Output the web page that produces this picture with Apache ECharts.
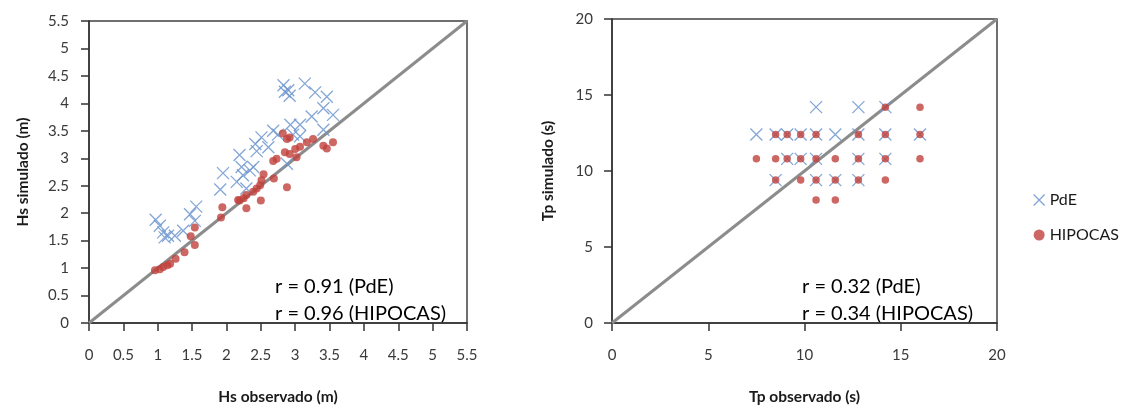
<!DOCTYPE html>
<html lang="pt">
<head>
    <meta charset="UTF-8">
    <script src="https://cdn.jsdelivr.net/npm/echarts@6/dist/echarts.min.js"></script>
    <style>
        html, body { margin: 0; padding: 0; background: #fff; }
    </style>
</head>
<body>
<div id="chart" style="width: 1125px;height: 410px"></div>
<script>
    // Hs (m) - PdE
    var hsObsPdE = [0.97, 1.03, 1.08, 1.15, 1.25, 1.10, 1.37, 1.47, 1.56, 1.54, 1.91, 1.95, 2.19, 2.15, 2.24, 2.39, 2.29,
        2.44, 2.51, 2.42, 2.68, 2.75, 2.83, 2.90, 2.85, 2.92, 3.14, 3.29, 3.46, 3.55, 3.41, 3.24, 3.07, 2.93, 3.41,
        2.97, 3.07, 2.88, 2.61, 2.22, 2.34];
    var hsSimPdE = [1.88, 1.77, 1.65, 1.59, 1.59, 1.56, 1.68, 1.98, 2.12, 1.86, 2.43, 2.73, 3.06, 2.57, 2.69, 2.84, 2.45,
        3.13, 3.38, 3.26, 3.50, 3.43, 4.33, 4.24, 4.21, 4.14, 4.36, 4.20, 4.12, 3.79, 3.91, 3.76, 3.61, 3.61, 3.52,
        3.43, 3.40, 2.90, 3.20, 2.84, 2.78];
    // Hs (m) - HIPOCAS
    var hsObsHip = [0.96, 1.03, 1.08, 1.14, 1.18, 1.26, 1.39, 1.54, 1.48, 1.54, 1.92, 1.94, 2.29, 2.50, 2.17, 2.19, 2.25,
        2.29, 2.39, 2.44, 2.49, 2.54, 2.51, 2.68, 2.73, 2.69, 2.88, 2.82, 2.88, 2.92, 2.85, 2.92, 3.02, 3.00, 3.07,
        3.17, 3.26, 3.41, 3.46, 3.55];
    var hsSimHip = [0.96, 0.98, 1.02, 1.05, 1.08, 1.17, 1.29, 1.42, 1.58, 1.74, 1.92, 2.11, 2.09, 2.23, 2.24, 2.23, 2.27,
        2.33, 2.39, 2.45, 2.51, 2.71, 2.60, 2.95, 2.99, 2.63, 2.47, 3.45, 3.35, 3.38, 3.11, 3.08, 3.02, 3.17, 3.21,
        3.29, 3.35, 3.23, 3.18, 3.29];

    // Tp (s) - PdE
    var tpObsPdE = [10.6, 12.8, 14.2,
        7.5, 8.5, 9.1, 9.8, 10.6, 11.6, 12.8, 14.2, 16.0,
        9.1, 9.8, 10.6, 12.8, 14.2,
        8.5, 10.6, 11.6, 12.8];
    var tpSimPdE = [14.2, 14.2, 14.2,
        12.4, 12.4, 12.4, 12.4, 12.4, 12.4, 12.4, 12.4, 12.4,
        10.8, 10.8, 10.8, 10.8, 10.8,
        9.4, 9.4, 9.4, 9.4];
    // Tp (s) - HIPOCAS
    var tpObsHip = [14.2, 16.0,
        8.5, 9.1, 9.8, 10.6, 12.8, 14.2, 16.0,
        7.5, 8.5, 9.1, 9.8, 10.6, 11.6, 12.8, 14.2, 16.0,
        8.5, 9.8, 10.6, 11.6, 12.8, 14.2,
        10.6, 11.6];
    var tpSimHip = [14.2, 14.2,
        12.4, 12.4, 12.4, 12.4, 12.4, 12.4, 12.4,
        10.8, 10.8, 10.8, 10.8, 10.8, 10.8, 10.8, 10.8, 10.8,
        9.4, 9.4, 9.4, 9.4, 9.4, 9.4,
        8.1, 8.1];

    var hsLine = [0, 5.5];
    var tpLine = [0, 20];
    var hsText = ['r = 0.91 (PdE)', 'r = 0.96 (HIPOCAS)'];
    var tpText = ['r = 0.32 (PdE)', 'r = 0.34 (HIPOCAS)'];

    function pairs(xs, ys) {
        var out = [];
        for (var i = 0; i < xs.length; i++) out.push([xs[i], ys[i]]);
        return out;
    }

    var font = 'Lato, "Liberation Sans", sans-serif';
    var crossSymbol = 'path://M0,0L10,10M10,0L0,10';
    var crossStyle = {color: 'rgba(0,0,0,0)', borderColor: '#6f97cf', borderWidth: 1.3, opacity: 0.85};
    var dotStyle = {color: '#c0413c'};

    function xAxis(idx, max, interval, name) {
        return {
            gridIndex: idx, type: 'value', min: 0, max: max, interval: interval,
            name: name, nameLocation: 'middle', nameGap: 66,
            nameTextStyle: {fontFamily: font, fontWeight: 'bold', fontSize: 15.5, color: '#1a1a1a'},
            axisLine: {show: true, lineStyle: {color: '#333', width: 1.5}},
            axisTick: {show: true, length: 8, lineStyle: {color: '#333', width: 1.5}},
            axisLabel: {margin: 25, fontFamily: font, fontSize: 15, color: '#3a3a3a'},
            splitLine: {show: false}
        };
    }

    function yAxis(idx, max, interval, name, gap, margin) {
        return {
            gridIndex: idx, type: 'value', min: 0, max: max, interval: interval,
            name: name, nameLocation: 'middle', nameGap: gap, nameRotate: 90,
            nameTextStyle: {fontFamily: font, fontWeight: 'bold', fontSize: 15.5, color: '#1a1a1a'},
            axisLine: {show: true, lineStyle: {color: '#333', width: 1.5}},
            axisTick: {show: true, length: 8, lineStyle: {color: '#333', width: 1.5}},
            axisLabel: {margin: margin, fontFamily: font, fontSize: 15, color: '#3a3a3a'},
            splitLine: {show: false}
        };
    }

    var chart = echarts.init(document.getElementById('chart'));
    var option = {
        animation: false,
        backgroundColor: '#fff',
        grid: [
            {left: 89, top: 21, width: 378, height: 308, show: true, borderColor: '#404040', borderWidth: 1.5},
            {left: 612, top: 19, width: 385, height: 312, show: true, borderColor: '#404040', borderWidth: 1.5}
        ],
        xAxis: [
            xAxis(0, 5.5, 0.5, 'Hs observado (m)'),
            xAxis(1, 20, 5, 'Tp observado (s)')
        ],
        yAxis: [
            yAxis(0, 5.5, 0.5, 'Hs simulado (m)', 58, 20),
            yAxis(1, 20, 5, 'Tp simulado (s)', 56, 19)
        ],
        legend: {
            orient: 'vertical', left: 1028, top: 187, itemGap: 19, itemWidth: 11, itemHeight: 11,
            textStyle: {fontFamily: font, fontSize: 16, color: '#1a1a1a'},
            data: [
                {name: 'PdE', icon: crossSymbol, itemStyle: crossStyle},
                {name: 'HIPOCAS', icon: 'circle', itemStyle: {color: '#c0413c'}}
            ]
        },
        graphic: [
            {type: 'text', left: 275, top: 277, style: {text: hsText[0], font: '20px ' + font, fill: '#000'}},
            {type: 'text', left: 275, top: 304, style: {text: hsText[1], font: '20px ' + font, fill: '#000'}},
            {type: 'text', left: 802, top: 277, style: {text: tpText[0], font: '20px ' + font, fill: '#000'}},
            {type: 'text', left: 802, top: 304, style: {text: tpText[1], font: '20px ' + font, fill: '#000'}}
        ],
        series: [
            {
                type: 'line', xAxisIndex: 0, yAxisIndex: 0, showSymbol: false, silent: true,
                data: pairs(hsLine, hsLine), lineStyle: {color: '#8c8c8c', width: 3}, z: 1
            },
            {
                name: 'PdE', type: 'scatter', xAxisIndex: 0, yAxisIndex: 0,
                symbol: crossSymbol, symbolSize: 12, data: pairs(hsObsPdE, hsSimPdE), itemStyle: crossStyle, z: 2
            },
            {
                name: 'HIPOCAS', type: 'scatter', xAxisIndex: 0, yAxisIndex: 0,
                symbol: 'circle', symbolSize: 8, data: pairs(hsObsHip, hsSimHip), itemStyle: dotStyle, z: 3
            },
            {
                type: 'line', xAxisIndex: 1, yAxisIndex: 1, showSymbol: false, silent: true,
                data: pairs(tpLine, tpLine), lineStyle: {color: '#8c8c8c', width: 3}, z: 1
            },
            {
                name: 'PdE', type: 'scatter', xAxisIndex: 1, yAxisIndex: 1,
                symbol: crossSymbol, symbolSize: 12, data: pairs(tpObsPdE, tpSimPdE), itemStyle: crossStyle, z: 2
            },
            {
                name: 'HIPOCAS', type: 'scatter', xAxisIndex: 1, yAxisIndex: 1,
                symbol: 'circle', symbolSize: 7.5, data: pairs(tpObsHip, tpSimHip), itemStyle: dotStyle, z: 3
            }
        ]
    };
    chart.setOption(option);
</script>
</body>
</html>
